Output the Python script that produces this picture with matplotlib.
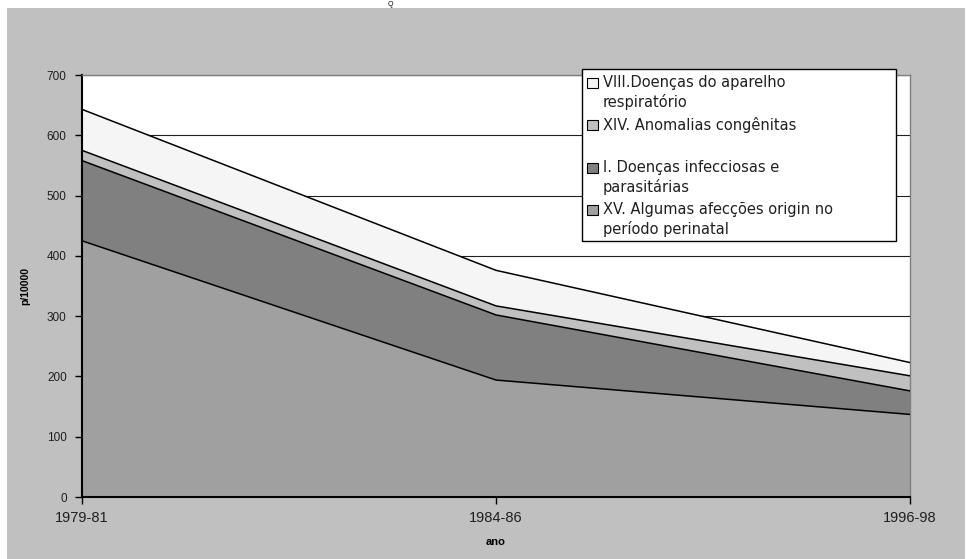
import matplotlib.pyplot as plt
from matplotlib.patches import Rectangle

plt.rcParams['font.family'] = ['Liberation Sans', 'DejaVu Sans']

periodos = ["1979-81", "1984-86", "1996-98"]

# taxas por 10000, por capítulo da CID (empilhadas de baixo para cima)
perinatal = [425, 194, 137]
infecciosas = [133, 108, 39]
congenitas = [17, 15, 25]
respiratorio = [68, 59, 22]

nomes = [
    "XV. Algumas afecções origin no\nperíodo perinatal",
    "I. Doenças infecciosas e\nparasitárias",
    "XIV. Anomalias congênitas",
    "VIII.Doenças do aparelho\nrespiratório",
]
cores = ["#a0a0a0", "#808080", "#c0c0c0", "#f5f5f5"]

W, H = 967, 559
fig = plt.figure(figsize=(W / 100, H / 100), dpi=100)
fig.patch.set_facecolor("white")
fig.patches.append(Rectangle((7 / W, 0), 1 - 9 / W, 1 - 8 / H,
                             transform=fig.transFigure, facecolor="#c0c0c0",
                             edgecolor="none", zorder=-1))
fig.text(390 / W, 1 - 1 / H, "Q", fontsize=5, ha="center", va="top")

ax = fig.add_axes([82 / W, 62 / H, 828 / W, 422 / H])
ax.set_facecolor("white")

x = list(range(len(periodos)))
series = [perinatal, infecciosas, congenitas, respiratorio]
base = [0] * len(x)
for vals, cor in zip(series, cores):
    topo = [b + v for b, v in zip(base, vals)]
    ax.fill_between(x, base, topo, facecolor=cor, edgecolor="none", zorder=2)
    ax.plot(x, topo, color="black", lw=1.1, zorder=3)
    base = topo

ax.set_xlim(0, 2)
ax.set_ylim(0, 700)
ax.set_yticks(range(0, 701, 100))
ax.set_xticks(x)
ax.set_xticklabels(periodos, fontsize=10.5, color="#202020")
ax.tick_params(axis="y", labelsize=8.5, labelcolor="#202020", length=5,
               width=1, pad=6)
ax.tick_params(axis="x", length=5, width=1, pad=5)
ax.grid(axis="y", color="#202020", lw=0.8, zorder=1)
ax.set_axisbelow(True)

for s in ("left", "bottom"):
    ax.spines[s].set_color("black")
    ax.spines[s].set_linewidth(1.5)
for s in ("top", "right"):
    ax.spines[s].set_color("#808080")
    ax.spines[s].set_linewidth(1)

ax.set_xlabel("ano", fontsize=8, fontweight="bold", labelpad=9)
ax.set_ylabel("p/10000", fontsize=7.5, fontweight="bold", labelpad=12)

# legenda desenhada à mão (caixa branca com quadradinhos)
leg_x0, leg_y0, leg_x1, leg_y1 = 582, 69, 896, 241
fig.patches.append(Rectangle((leg_x0 / W, 1 - leg_y1 / H),
                             (leg_x1 - leg_x0) / W, (leg_y1 - leg_y0) / H,
                             transform=fig.transFigure, facecolor="white",
                             edgecolor="black", lw=1, zorder=5))
linhas = [(83, 3), (125, 2), (168, 1), (210, 0)]
for y_px, i in linhas:
    fig.patches.append(Rectangle((587 / W, 1 - (y_px + 5) / H), 11 / W, 10 / H,
                                 transform=fig.transFigure, facecolor=cores[i],
                                 edgecolor="black", lw=0.8, zorder=6))
    fig.text(603 / W, 1 - (y_px - 8) / H, nomes[i], fontsize=10.5,
             family=["DejaVu Sans"], color="#202020", ha="left", va="top",
             linespacing=1.3, zorder=7)

fig.savefig("out.png", dpi=100)
